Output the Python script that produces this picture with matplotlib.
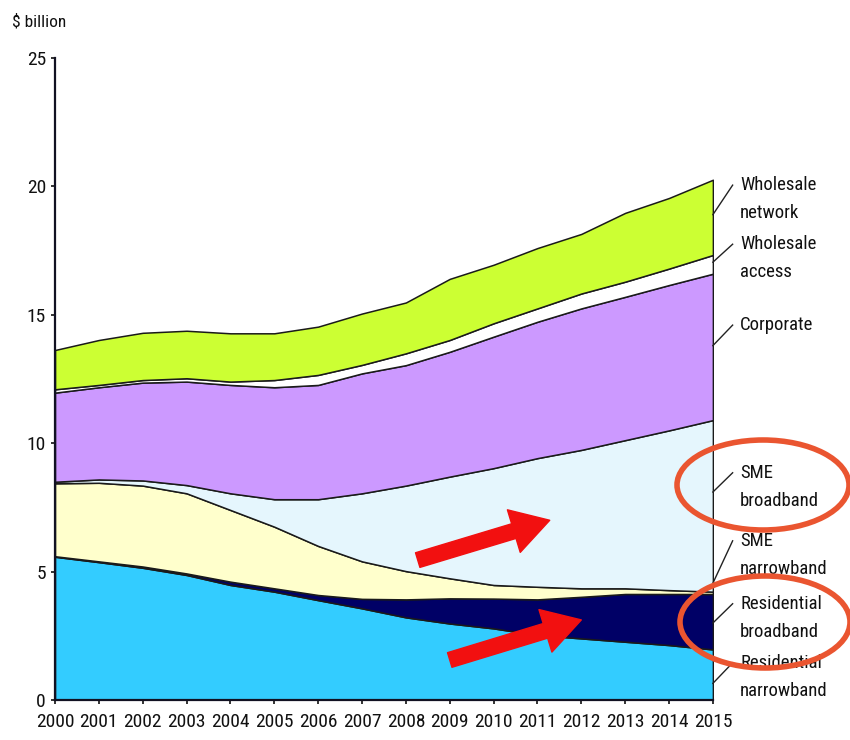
import numpy as np
import matplotlib.pyplot as plt
from matplotlib import font_manager
from matplotlib.patches import Ellipse

# prefer a narrow sans face when one is available
installed = {f.name for f in font_manager.fontManager.ttflist}
narrow = [n for n in ['Liberation Sans Narrow', 'Arial Narrow', 'Roboto Condensed'] if n in installed]
if narrow:
    plt.rcParams['font.family'] = [narrow[0], 'DejaVu Sans']
    fs = 14
else:
    plt.rcParams['font.family'] = ['Liberation Sans', 'DejaVu Sans']
    fs = 12

years = np.arange(2000, 2016)

# $ billion per segment, stacked bottom to top
resi_narrow = [5.58, 5.37, 5.15, 4.87, 4.48, 4.22, 3.89, 3.57, 3.22, 2.98, 2.79, 2.53, 2.40, 2.27, 2.14, 1.97]
resi_broad = [0.02, 0.03, 0.05, 0.06, 0.13, 0.13, 0.20, 0.37, 0.70, 0.98, 1.16, 1.39, 1.62, 1.86, 1.99, 2.16]
sme_narrow = [2.84, 3.06, 3.15, 3.12, 2.79, 2.40, 1.91, 1.46, 1.10, 0.78, 0.53, 0.49, 0.33, 0.22, 0.15, 0.09]
sme_broad = [0.06, 0.13, 0.20, 0.32, 0.65, 1.07, 1.82, 2.65, 3.33, 3.96, 4.55, 5.01, 5.39, 5.77, 6.22, 6.68]
corporate = [3.47, 3.59, 3.81, 4.03, 4.22, 4.36, 4.45, 4.67, 4.69, 4.86, 5.12, 5.31, 5.51, 5.58, 5.66, 5.70]
whs_access = [0.13, 0.09, 0.10, 0.13, 0.13, 0.28, 0.39, 0.33, 0.46, 0.46, 0.52, 0.52, 0.58, 0.59, 0.64, 0.73]
whs_network = [1.53, 1.75, 1.84, 1.85, 1.88, 1.82, 1.88, 2.00, 1.98, 2.38, 2.28, 2.35, 2.32, 2.68, 2.75, 2.93]

series = [resi_narrow, resi_broad, sme_narrow, sme_broad, corporate, whs_access, whs_network]
colors = ['#33ccff', '#000066', '#ffffcc', '#e5f6fd', '#cc99ff', '#ffffff', '#ccff33']

# label lines, leader start (y at 2015) and leader end / text anchor y
labels = [
    (['Wholesale', 'network'], 18.9, 20.05),
    (['Wholesale', 'access'], 17.05, 17.75),
    (['Corporate'], 13.8, 14.6),
    (['SME', 'broadband'], 8.1, 8.85),
    (['SME', 'narrowband'], 4.55, 6.2),
    (['Residential', 'broadband'], 3.0, 3.75),
    (['Residential', 'narrowband'], 0.65, 1.45),
]

fig = plt.figure(figsize=(8.5, 7.4), dpi=100)
ax = fig.add_axes([0.0647, 0.054, 0.774, 0.8676])

ax.stackplot(years, *series, colors=colors, edgecolor='#1a1a1a', linewidth=1.1)

ax.set_xlim(2000, 2015)
ax.set_ylim(0, 25)
ax.set_xticks(years)
ax.set_xticklabels([str(y) for y in years])
ax.set_yticks([0, 5, 10, 15, 20, 25])
ax.tick_params(axis='both', labelsize=fs, length=3, width=1.2, direction='out',
               colors='#111111')
ax.tick_params(axis='x', pad=6)
for s in ['top', 'right']:
    ax.spines[s].set_visible(False)
for s in ['left', 'bottom']:
    ax.spines[s].set_linewidth(1.6)
    ax.spines[s].set_color('#111122')

fig.text(0.014, 0.97, '$ billion', fontsize=fs - 1.5, va='center', ha='left', color='#111111')

# right-hand labels with short leader lines
line_h = 1.1
for lines, y0, y1 in labels:
    ax.plot([2015, 2015.45], [y0, y1], color='#222222', lw=1.0, clip_on=False)
    for i, t in enumerate(lines):
        ax.text(2015.62, y1 - i * line_h, t, fontsize=fs - 0.5, va='center', ha='left',
                color='#111111', clip_on=False)

# red trend arrows
arrow_kw = dict(arrowstyle='simple,head_length=1.35,head_width=1.6,tail_width=0.55',
                mutation_scale=20, color='#f21010', shrinkA=0, shrinkB=0)
ax.annotate('', xy=(2011.28, 7.0), xytext=(2008.27, 5.45), arrowprops=arrow_kw)
ax.annotate('', xy=(2012.0, 3.12), xytext=(2009.0, 1.56), arrowprops=arrow_kw)

# orange highlight rings around the broadband labels
for cx, cy, w, h in [(763, 485, 172, 90), (765, 622, 170, 92)]:
    e = Ellipse((cx, 740 - cy), w, h, transform=None, fill=False,
                edgecolor='#ea5530', lw=4.0, zorder=10)
    fig.add_artist(e)

fig.savefig('out.png', dpi=100)
